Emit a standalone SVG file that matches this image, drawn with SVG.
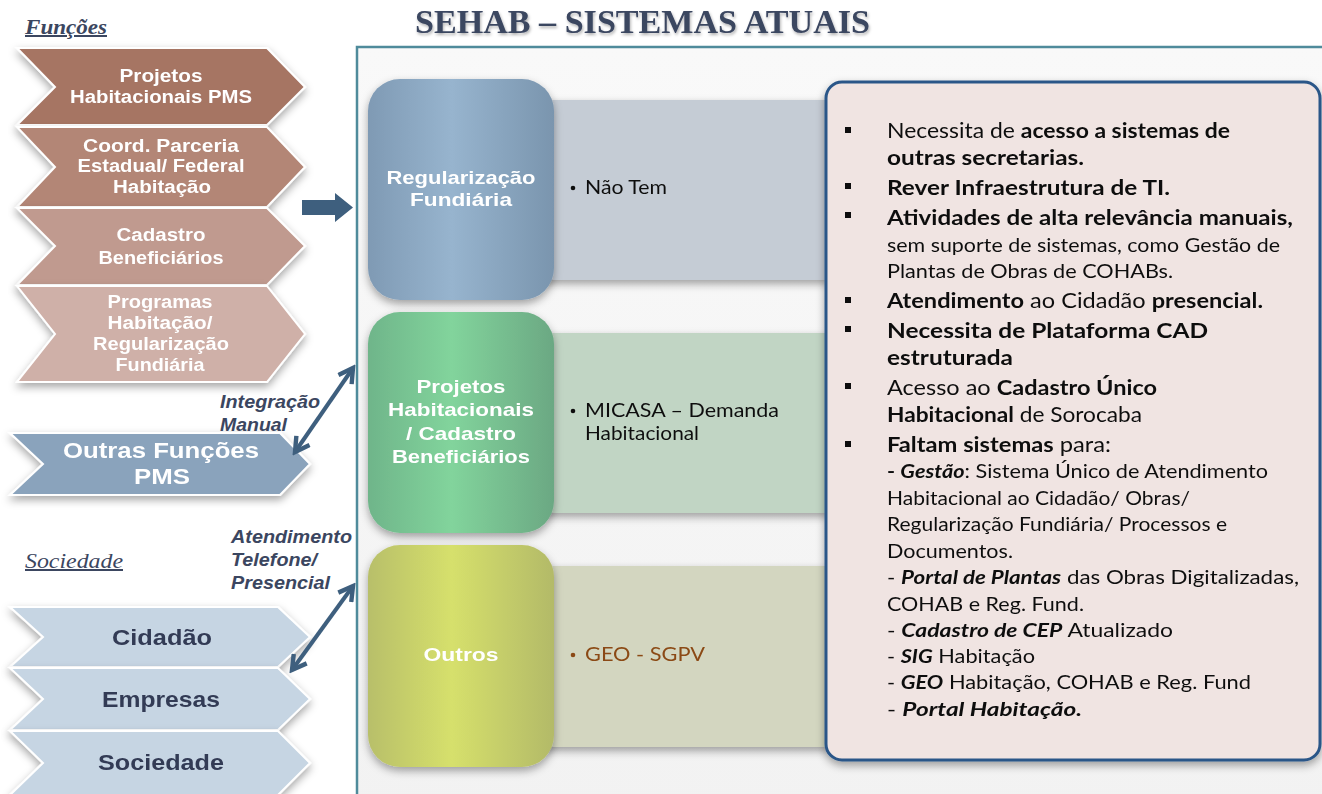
<svg xmlns="http://www.w3.org/2000/svg" width="1322" height="794" viewBox="0 0 1322 794">
<defs>
<style>
.ttl{font-family:"Liberation Serif",serif;font-weight:bold;font-size:33px;fill:#3b4660}
.sec{font-family:"Liberation Serif",serif;font-style:italic;fill:#3b4660;font-size:20px;text-decoration:underline}
.fn{font-family:"Liberation Sans",Arial,sans-serif;font-weight:bold;font-size:17.5px;fill:#fff;text-anchor:middle}
.of{font-family:"Liberation Sans",Arial,sans-serif;font-weight:bold;font-size:22.5px;fill:#fff;text-anchor:middle}
.soc{font-family:"Liberation Sans",Arial,sans-serif;font-weight:bold;font-size:22px;fill:#333b55;text-anchor:middle}
.lbl{font-family:"Liberation Sans",sans-serif;font-weight:bold;font-style:italic;font-size:17.5px;fill:#3b4660}
.sq{font-family:"Liberation Sans",Arial,sans-serif;font-weight:bold;font-size:19px;fill:#fff;text-anchor:middle}
.bar{font-family:Lato,"Liberation Sans",sans-serif;font-size:20px;fill:#111}
.rt{font-family:Lato,"Liberation Sans",sans-serif;font-size:20.5px;fill:#111}
.rs{font-family:Lato,"Liberation Sans",sans-serif;font-size:19.5px;fill:#111}
.b{font-weight:bold}
.bi{font-weight:bold;font-style:italic}
.conn{stroke:#3e5f7e;stroke-width:4;fill:none}
</style>
<filter id="sh" x="-20%" y="-20%" width="140%" height="150%">
<feDropShadow dx="0" dy="4" stdDeviation="4" flood-color="#000" flood-opacity="0.35"/>
</filter>
<filter id="tsh" x="-5%" y="-20%" width="110%" height="160%">
<feDropShadow dx="1" dy="2" stdDeviation="1.5" flood-color="#000" flood-opacity="0.3"/>
</filter>
<linearGradient id="gBlue" x1="0" y1="0" x2="1" y2="0">
<stop offset="0" stop-color="#7f9ab4"/><stop offset="0.45" stop-color="#97b4ce"/><stop offset="1" stop-color="#7a95ae"/>
</linearGradient>
<linearGradient id="gGreen" x1="0" y1="0" x2="1" y2="0">
<stop offset="0" stop-color="#6fb58a"/><stop offset="0.45" stop-color="#82d49c"/><stop offset="1" stop-color="#6ba883"/>
</linearGradient>
<linearGradient id="gYel" x1="0" y1="0" x2="1" y2="0">
<stop offset="0" stop-color="#b8bf6a"/><stop offset="0.45" stop-color="#d6e06c"/><stop offset="1" stop-color="#b3ba68"/>
</linearGradient>
<linearGradient id="gFrame" x1="0" y1="0" x2="0" y2="1">
<stop offset="0" stop-color="#f9f9f9"/><stop offset="1" stop-color="#f2f2f2"/>
</linearGradient>
<marker id="ah" viewBox="0 0 10 10" refX="8" refY="5" markerWidth="5" markerHeight="5" orient="auto-start-reverse" markerUnits="strokeWidth">
<polyline points="1,1 8,5 1,9" fill="none" stroke="#3e5f7e" stroke-width="2.2"/>
</marker>
</defs>
<rect width="1322" height="794" fill="#ffffff"/>

<g id="title">
<text class="ttl" x="415" y="33" textLength="455" lengthAdjust="spacingAndGlyphs" filter="url(#tsh)">SEHAB – SISTEMAS ATUAIS</text>
</g>

<g id="frame">
<rect x="357" y="47" width="985" height="770" fill="url(#gFrame)" stroke="#4f8b9b" stroke-width="2.5"/>
</g>

<g id="label-funcoes"><text class="sec" x="25" y="34" font-weight="bold" textLength="82" lengthAdjust="spacingAndGlyphs">Funções</text></g>
<g id="label-sociedade"><text class="sec" x="25" y="568" textLength="98" lengthAdjust="spacingAndGlyphs">Sociedade</text></g>

<g id="fn1" filter="url(#sh)">
<path d="M17,48 L267,48 L305,87 L267,125 L17,125 L55,87 Z" fill="#a67464" stroke="#fff" stroke-width="2"/>
<text class="fn" x="161" y="82" textLength="83" lengthAdjust="spacingAndGlyphs">Projetos</text>
<text class="fn" x="161" y="103" textLength="182" lengthAdjust="spacingAndGlyphs">Habitacionais PMS</text>
</g>
<g id="fn2" filter="url(#sh)">
<path d="M17,127 L267,127 L305,167 L267,207 L17,207 L55,167 Z" fill="#b38676" stroke="#fff" stroke-width="2"/>
<text class="fn" x="161" y="152" textLength="156" lengthAdjust="spacingAndGlyphs">Coord. Parceria</text>
<text class="fn" x="161" y="172" textLength="167" lengthAdjust="spacingAndGlyphs">Estadual/ Federal</text>
<text class="fn" x="162" y="193" textLength="98" lengthAdjust="spacingAndGlyphs">Habitação</text>
</g>
<g id="fn3" filter="url(#sh)">
<path d="M17,208 L267,208 L305,246 L267,285 L17,285 L55,246 Z" fill="#c09a8f" stroke="#fff" stroke-width="2"/>
<text class="fn" x="161" y="241" textLength="89" lengthAdjust="spacingAndGlyphs">Cadastro</text>
<text class="fn" x="161" y="264" textLength="125" lengthAdjust="spacingAndGlyphs">Beneficiários</text>
</g>
<g id="fn4" filter="url(#sh)">
<path d="M17,286 L267,286 L305,334 L267,382 L17,382 L55,334 Z" fill="#cfb0a8" stroke="#fff" stroke-width="2"/>
<text class="fn" x="160" y="308" textLength="105" lengthAdjust="spacingAndGlyphs">Programas</text>
<text class="fn" x="160" y="329" textLength="105" lengthAdjust="spacingAndGlyphs">Habitação/</text>
<text class="fn" x="161" y="350" textLength="136" lengthAdjust="spacingAndGlyphs">Regularização</text>
<text class="fn" x="160" y="371" textLength="89" lengthAdjust="spacingAndGlyphs">Fundiária</text>
</g>

<g id="outras" filter="url(#sh)">
<path d="M10,433 L280,433 L310,464 L280,495 L10,495 L43,464 Z" fill="#8aa3bc" stroke="#fff" stroke-width="2"/>
<text class="of" x="161" y="458" textLength="196" lengthAdjust="spacingAndGlyphs">Outras Funções</text>
<text class="of" x="162" y="484" textLength="56" lengthAdjust="spacingAndGlyphs">PMS</text>
</g>

<g id="cidadao" filter="url(#sh)">
<path d="M10,607 L278,607 L310,637 L278,667 L10,667 L43,637 Z" fill="#c6d5e3" stroke="#fff" stroke-width="2"/>
<text class="soc" x="162" y="645" textLength="100" lengthAdjust="spacingAndGlyphs">Cidadão</text>
</g>
<g id="empresas" filter="url(#sh)">
<path d="M10,668 L278,668 L310,699 L278,730 L10,730 L43,699 Z" fill="#c6d5e3" stroke="#fff" stroke-width="2"/>
<text class="soc" x="161" y="707" textLength="118" lengthAdjust="spacingAndGlyphs">Empresas</text>
</g>
<g id="sociedade" filter="url(#sh)">
<path d="M10,731 L278,731 L310,763 L278,795 L10,795 L43,763 Z" fill="#c6d5e3" stroke="#fff" stroke-width="2"/>
<text class="soc" x="161" y="770" textLength="126" lengthAdjust="spacingAndGlyphs">Sociedade</text>
</g>

<g id="bar1" filter="url(#sh)">
<rect x="540" y="100" width="290" height="180" fill="#c5ccd5"/>
<circle cx="573" cy="188" r="2.3" fill="#111"/>
<text class="bar" x="585" y="194" textLength="82" lengthAdjust="spacingAndGlyphs">Não Tem</text>
</g>
<g id="bar2" filter="url(#sh)">
<rect x="540" y="333" width="290" height="180" fill="#c1d5c4"/>
<circle cx="573" cy="411" r="2.3" fill="#111"/>
<text class="bar" x="585" y="417" textLength="194" lengthAdjust="spacingAndGlyphs">MICASA – Demanda</text>
<text class="bar" x="585" y="440" textLength="114" lengthAdjust="spacingAndGlyphs">Habitacional</text>
</g>
<g id="bar3" filter="url(#sh)">
<rect x="540" y="566" width="290" height="181" fill="#d3d6c0"/>
<circle cx="573" cy="655" r="2.3" fill="#8b4a14"/>
<text class="bar" x="585" y="661" style="fill:#8b4a14" textLength="120" lengthAdjust="spacingAndGlyphs">GEO - SGPV</text>
</g>

<g id="sq1" filter="url(#sh)">
<rect x="368" y="79" width="186" height="221" rx="32" fill="url(#gBlue)"/>
<text class="sq" x="461" y="184" textLength="149" lengthAdjust="spacingAndGlyphs">Regularização</text>
<text class="sq" x="461" y="206" textLength="102" lengthAdjust="spacingAndGlyphs">Fundiária</text>
</g>
<g id="sq2" filter="url(#sh)">
<rect x="368" y="312" width="186" height="221" rx="32" fill="url(#gGreen)"/>
<text class="sq" x="461" y="393" textLength="89" lengthAdjust="spacingAndGlyphs">Projetos</text>
<text class="sq" x="461" y="416" textLength="146" lengthAdjust="spacingAndGlyphs">Habitacionais</text>
<text class="sq" x="461" y="440" textLength="110" lengthAdjust="spacingAndGlyphs">/ Cadastro</text>
<text class="sq" x="461" y="463" textLength="138" lengthAdjust="spacingAndGlyphs">Beneficiários</text>
</g>
<g id="sq3" filter="url(#sh)">
<rect x="368" y="545" width="186" height="222" rx="32" fill="url(#gYel)"/>
<text class="sq" x="461" y="661" textLength="75" lengthAdjust="spacingAndGlyphs">Outros</text>
</g>

<g id="notes" filter="url(#sh)">
<rect x="826" y="82" width="494" height="678" rx="16" fill="#f0e4e2" stroke="#2b5688" stroke-width="3"/>
<g fill="#111">
<rect x="845" y="127" width="6" height="6"/>
<rect x="845" y="183" width="6" height="6"/>
<rect x="845" y="212" width="6" height="6"/>
<rect x="845" y="297" width="6" height="6"/>
<rect x="845" y="326" width="6" height="6"/>
<rect x="845" y="383" width="6" height="6"/>
<rect x="845" y="441" width="6" height="6"/>
</g>
<text class="rt" x="887" y="138" textLength="343" lengthAdjust="spacingAndGlyphs">Necessita de <tspan class="b">acesso a sistemas de</tspan></text>
<text class="rt b" x="887" y="165" textLength="197" lengthAdjust="spacingAndGlyphs">outras secretarias.</text>
<text class="rt b" x="887" y="195" textLength="283" lengthAdjust="spacingAndGlyphs">Rever Infraestrutura de TI.</text>
<text class="rt b" x="887" y="225" textLength="406" lengthAdjust="spacingAndGlyphs">Atividades de alta relevância manuais,</text>
<text class="rs" x="887" y="252" textLength="393" lengthAdjust="spacingAndGlyphs">sem suporte de sistemas, como Gestão de</text>
<text class="rs" x="887" y="278" textLength="286" lengthAdjust="spacingAndGlyphs">Plantas de Obras de COHABs.</text>
<text class="rt" x="887" y="308" textLength="376" lengthAdjust="spacingAndGlyphs"><tspan class="b">Atendimento</tspan> ao Cidadão <tspan class="b">presencial.</tspan></text>
<text class="rt b" x="887" y="338" textLength="321" lengthAdjust="spacingAndGlyphs">Necessita de Plataforma CAD</text>
<text class="rt b" x="887" y="365" textLength="126" lengthAdjust="spacingAndGlyphs">estruturada</text>
<text class="rt" x="887" y="395" textLength="270" lengthAdjust="spacingAndGlyphs">Acesso ao <tspan class="b">Cadastro Único</tspan></text>
<text class="rt" x="887" y="422" textLength="255" lengthAdjust="spacingAndGlyphs"><tspan class="b">Habitacional</tspan> de Sorocaba</text>
<text class="rt" x="887" y="452" textLength="224" lengthAdjust="spacingAndGlyphs"><tspan class="b">Faltam sistemas</tspan> para:</text>
<text class="rs" x="887" y="478" textLength="381" lengthAdjust="spacingAndGlyphs"><tspan class="b">- </tspan><tspan class="bi">Gestão</tspan>: Sistema Único de Atendimento</text>
<text class="rs" x="887" y="505" textLength="303" lengthAdjust="spacingAndGlyphs">Habitacional ao Cidadão/ Obras/</text>
<text class="rs" x="887" y="531" textLength="340" lengthAdjust="spacingAndGlyphs">Regularização Fundiária/ Processos e</text>
<text class="rs" x="887" y="558" textLength="126" lengthAdjust="spacingAndGlyphs">Documentos.</text>
<text class="rs" x="887" y="584" textLength="412" lengthAdjust="spacingAndGlyphs">- <tspan class="bi">Portal de Plantas</tspan> das Obras Digitalizadas,</text>
<text class="rs" x="887" y="611" textLength="197" lengthAdjust="spacingAndGlyphs">COHAB e Reg. Fund.</text>
<text class="rs" x="887" y="637" textLength="286" lengthAdjust="spacingAndGlyphs">- <tspan class="bi">Cadastro de CEP</tspan> Atualizado</text>
<text class="rs" x="887" y="663" textLength="148" lengthAdjust="spacingAndGlyphs">- <tspan class="bi">SIG</tspan> Habitação</text>
<text class="rs" x="887" y="689" textLength="364" lengthAdjust="spacingAndGlyphs">- <tspan class="bi">GEO</tspan> Habitação, COHAB e Reg. Fund</text>
<text class="rs" x="887" y="716" textLength="195" lengthAdjust="spacingAndGlyphs">- <tspan class="bi">Portal Habitação.</tspan></text>
</g>

<g id="connectors">
<polygon points="302,200 335,200 335,193 353,207.5 335,222 335,215 302,215" fill="#3e5f7e"/>
<line class="conn" x1="295" y1="452" x2="353" y2="368" marker-start="url(#ah)" marker-end="url(#ah)"/>
<line class="conn" x1="292" y1="670" x2="353" y2="586" marker-start="url(#ah)" marker-end="url(#ah)"/>
</g>

<g id="conn-labels">
<text class="lbl" x="220" y="408" textLength="100" lengthAdjust="spacingAndGlyphs">Integração</text>
<text class="lbl" x="220" y="431" textLength="67" lengthAdjust="spacingAndGlyphs">Manual</text>
<text class="lbl" x="231" y="543" textLength="121" lengthAdjust="spacingAndGlyphs">Atendimento</text>
<text class="lbl" x="231" y="566" textLength="86" lengthAdjust="spacingAndGlyphs">Telefone/</text>
<text class="lbl" x="231" y="589" textLength="99" lengthAdjust="spacingAndGlyphs">Presencial</text>
</g>
</svg>
